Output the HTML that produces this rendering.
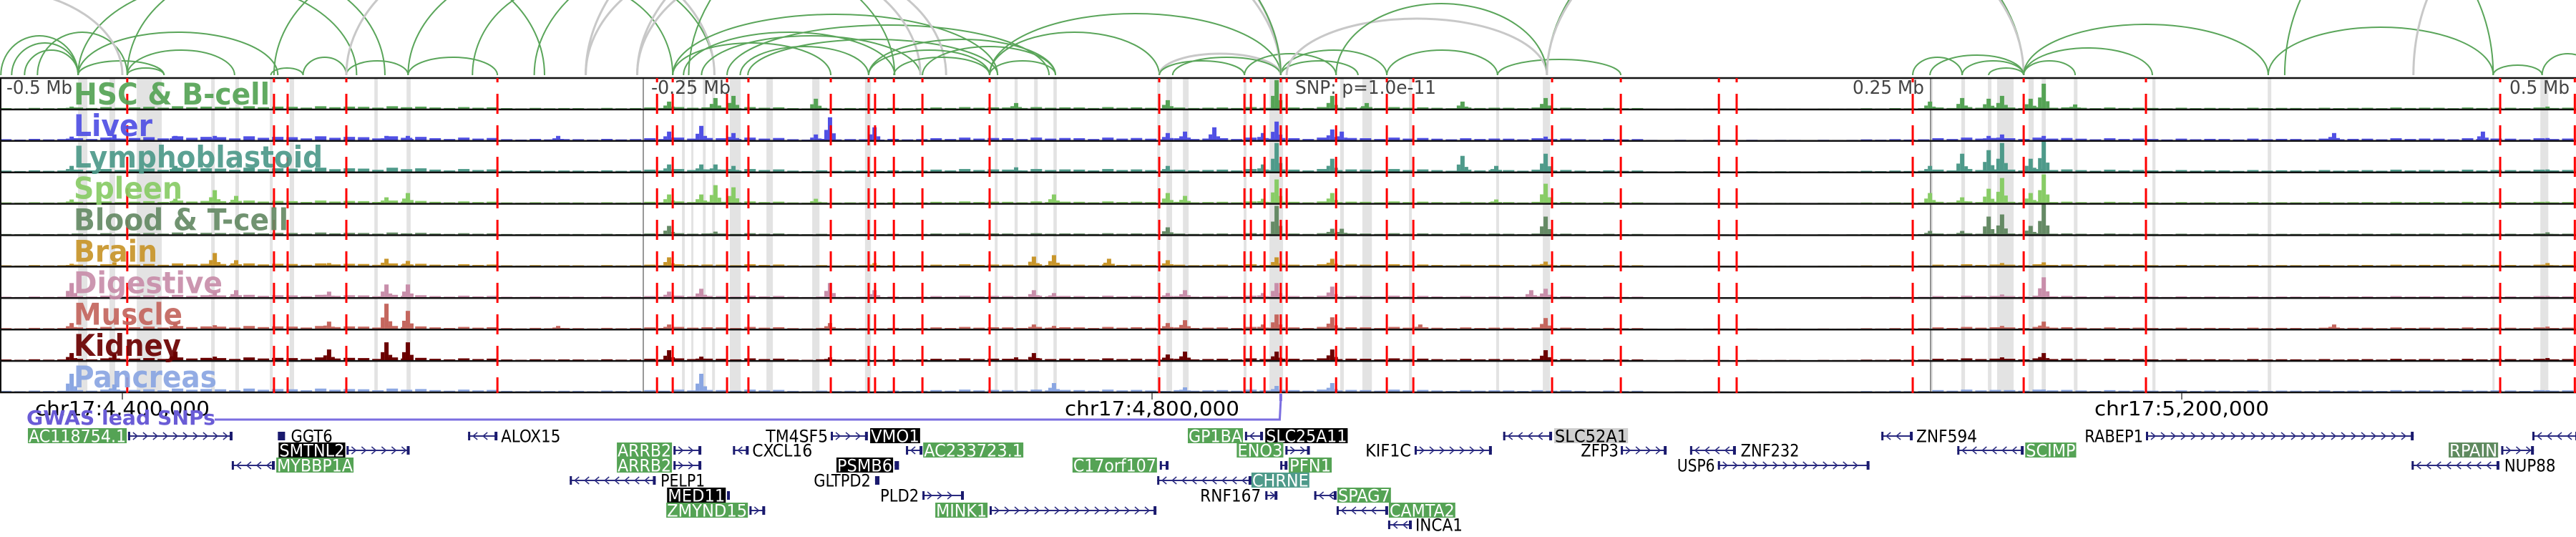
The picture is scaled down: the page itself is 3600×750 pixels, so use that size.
<!DOCTYPE html>
<html><head><meta charset="utf-8"><style>
html,body{margin:0;padding:0;background:#fff;width:3600px;height:750px;overflow:hidden}
svg{display:block}
.cond{font-family:"DejaVu Sans Condensed","DejaVu Sans","Liberation Sans",sans-serif}
</style></head><body>
<svg id="chart" width="3600" height="750" viewBox="0 0 3600 750" xmlns="http://www.w3.org/2000/svg">
<g id="arcs"></g>
<g id="bands"></g>
<g id="signals"></g>
<g id="frames"></g>
<g id="snps"></g>
<g id="labels"></g>
<g id="axis"></g>
<g id="genes"></g>
</svg>
<script>
// ---- data ----
const trackNames = ["HSC & B-cell","Liver","Lymphoblastoid","Spleen","Blood & T-cell","Brain","Digestive","Muscle","Kidney","Pancreas"];
const trackColors = ["#55a355","#5050e4","#4e9a8a","#88cc66","#658a65","#c8952a","#c88eaa","#c4665e","#6b0000","#8aa6e2"];
const labelWidths = [274,110,348,152,300,117,208,152,150,200];
const peakKb = [4380.3,4396.9,4420.6,4435.9,4444.2,4480.3,4502.6,4510.9,4569.3,4612.4,4624.9,4630.4,4637.4,4669.4,4674.9,4692.2,4747.2,4754.1,4761.9,4783.3,4806.1,4812.8,4824.2,4843.1,4848.4,4870.0,4873.7,4883.4,4904.2,4920.6,4933.7,4947.3,4952.9,5102.2,5114.7,5125.0,5130.2,5141.3,5146.4,5158.6,5259.2,5317.0,5342.1];
const hscPeaks    = [3,0,0,0,0,0,0,0,0,10,0,15,18,14,0,0,8,0,0,0,12,0,0,0,40,18,0,8,0,10,0,0,15,10,15,14,18,14,35,6,0,0,3];
const liverPeaks  = [5,8,6,6,0,0,6,6,6,12,20,0,10,8,32,18,0,0,0,0,10,12,18,10,26,15,12,0,0,0,0,0,5,0,0,6,8,0,6,0,10,12,3];
const lymphoPeaks = [8,0,8,0,0,0,0,0,0,10,10,10,8,0,0,0,6,0,0,0,8,0,0,10,40,18,0,0,0,22,8,0,25,8,25,30,40,18,42,0,0,0,3];
const spleenPeaks = [5,0,6,18,10,0,8,14,0,12,12,25,22,6,0,0,0,0,12,0,14,10,0,6,33,14,0,0,0,0,5,0,27,14,8,20,35,14,40,0,0,0,2];
const bloodPeaks  = [0,0,0,0,0,0,0,0,0,12,0,4,0,0,0,0,0,0,0,0,10,0,0,0,40,8,8,0,0,0,0,0,25,5,5,25,28,12,42,0,0,0,3];
const brainPeaks  = [3,5,0,18,8,4,10,7,0,12,0,0,0,0,0,4,0,13,15,10,8,0,0,0,12,10,0,0,0,0,0,0,6,0,0,0,4,0,5,0,0,0,4];
const digestPeaks = [20,0,0,8,10,8,18,18,0,8,12,0,0,0,20,10,0,10,6,0,6,10,0,6,20,15,0,0,0,0,0,10,12,0,0,0,4,0,28,0,0,0,2];
const musclePeaks = [8,0,8,5,0,10,35,25,4,6,0,0,0,0,8,0,0,6,4,0,8,12,0,6,20,16,0,0,6,0,0,0,15,0,0,0,4,0,10,0,6,0,3];
const kidneyPeaks = [10,8,12,5,0,15,25,25,0,14,5,0,0,0,4,0,4,10,0,0,8,12,0,0,12,15,0,0,0,0,0,0,14,0,0,0,4,0,10,0,0,0,3];
const pancPeaks   = [25,10,0,0,0,0,0,0,0,0,25,0,0,0,0,0,0,0,12,0,0,6,0,0,8,12,0,0,0,0,0,0,0,0,0,0,0,0,3,0,0,0,2];
const bgLevel = [1,2,3,3,3,3,2,1,1,2,2,1,1,2,2,2,1.5,2,2,2,1.5,1.5,1,0.3,0.3,0.3,0.8,2,2,1.5,1.2,1.2,1.2,1.5,1.5,1.5];
const bgScale = [0.9,1.4,1.4,0.9,0.7,0.9,0.9,1.0,1.0,1.1];
const bgStartKb = 4352.5, bgBinKb = 27.8;
const snpKb = [4401.9,4458.9,4464.2,4487.0,4545.7,4607.7,4613.8,4634.9,4643.2,4675.2,4689.9,4692.4,4699.7,4710.8,4736.9,4802.8,4835.9,4838.4,4843.7,4850.0,4852.3,4871.5,4891.2,4901.5,4955.4,4982.1,5020.2,5027.1,5095.5,5138.6,5186.1,5323.7,5352.7];
const bandKb = [[4382.8,4386.4],[4395.0,4397.2],[4405.6,4415.3],[4434.5,4435.9],[4443.9,4445.3],[4457.3,4458.4],[4465.0,4466.7],[4497.9,4499.2],[4510.4,4512.0],[4617.4,4618.5],[4621.0,4621.8],[4625.5,4626.6],[4629.1,4630.2],[4636.0,4640.2],[4650.2,4652.7],[4668.0,4670.8],[4688.5,4690.8],[4738.9,4740.0],[4746.6,4747.8],[4754.2,4755.6],[4761.7,4763.0],[4802.0,4803.1],[4805.6,4807.8],[4812.0,4814.2],[4835.6,4836.7],[4845.6,4850.9],[4873.1,4874.5],[4881.7,4885.4],[4899.8,4900.9],[4933.7,4934.8],[4951.8,4954.6],[5102.2,5103.3],[5114.4,5115.8],[5124.7,5126.1],[5128.3,5134.7],[5140.5,5142.5],[5145.6,5147.2],[5158.1,5159.5],[5188.6,5189.8],[5233.4,5234.8],[5320.7,5321.5],[5339.3,5342.4]];
const tickKb = [4400,4800,5200];
const tickLabels = ["chr17:4,400,000","chr17:4,800,000","chr17:5,200,000"];
// arcs: [startKb,endKb,heightPx,gray]
const arcs = [[4352.8,4382.8,55,0],[4357,4382.8,45,0],[4362,4382.8,35,0],[4367,4401.9,60,0],[4382.8,4460.4,60,0],[4401.9,4443.6,35,0],[4382.8,4491,130,0],[4401.9,4502,150,0],[4382.8,4416.2,20,0],[4401.9,4416.2,10,0],[4457.7,4470.2,10,0],[4470.2,4487,25,0],[4487,4511,20,0],[4511,4545.7,25,0],[4458.9,4564,160,0],[4511,4630,160,0],[4536,4613.8,130,0],[4487,4630,190,1],[4300,4400,120,1],
[4613.8,4675.2,45,0],[4618,4700,60,0],[4625,4710,55,0],[4640,4689.9,40,0],[4613.8,4740,85,0],[4634.9,4760,70,0],[4643,4740,50,0],[4560,4700,180,0],[4580,4710,170,1],[4600,4720,160,1],
[4689.9,4736.9,35,0],[4699.7,4736.9,25,0],[4689.9,4762.5,50,0],[4710.8,4762.5,40,0],[4736.9,4762.5,20,0],[4736.9,4850,86,0],[4736.9,4802.8,60,0],
[4802.8,4850,30,1],[4808,4850,25,0],[4802.8,4835.9,20,0],[4835.9,4871.5,30,0],[4850,4880,20,0],[4850,4891.2,35,0],[4891.2,4934.2,35,0],[4934.2,4982.1,22,0],[4852.3,4953.4,79,1],[4871.5,4953.4,100,0],[4580,4850,300,1],[4600,4850,260,1],[4620,4850,280,0],[4953.4,5138.6,250,0],[4953.4,5138.6,240,1],
[5095.5,5114.7,25,0],[5102.2,5138.6,28,0],[5114.7,5138.6,20,0],[5125,5138.6,10,0],[5138.6,5158.6,20,0],[5138.6,5188.6,38,0],[5138.6,5233.6,71,0],[5233.6,5321,67,0],[5321,5340,14,0],[5340,5360,30,0],[5240,5321,200,0],[5290,5360,200,1]];
// genes: [name,row,labelStartKb,labelEndKb,style,lineStartKb,lineEndKb,strand]
const genes = [["AC118754.1",0,4363.3,4401.7,"g",4402.2,4442.8,"+"],["GGT6",0,4465.2,4481.9,"",4460.4,4463.2,"b"],["SMTNL2",1,4460.7,4486.6,"k",4487.1,4511.6,"+"],["MYBBP1A",2,4459.8,4489.8,"g",4442.5,4459.2,"-"],["ALOX15",0,4546.8,4570.5,"",4534.3,4545.7,"-"],["ARRB2",1,4592.1,4613.5,"g",4614.1,4624.9,"+"],["ARRB2",2,4592.1,4613.5,"g",4614.1,4624.9,"+"],["PELP1",3,4608.8,4626.6,"",4573.8,4607.2,"-"],["MED11",4,4611.6,4634.4,"k",4634.9,4636.0,"+"],["ZMYND15",5,4611.3,4643.0,"g",4643.6,4649.7,"+"],["CXCL16",1,4644.4,4668.3,"",4637.2,4643.3,"-"],["TM4SF5",0,4649.7,4674.4,"",4675.2,4689.6,"+"],["VMO1",0,4690.5,4709.9,"k",0,0,""],["AC233723.1",1,4711.1,4750.0,"g",4704.4,4710.8,"-"],["PSMB6",2,4677.4,4699.4,"k",4700.0,4701.7,"+"],["GLTPD2",3,4668.3,4691.0,"",4692.4,4694.1,"+"],["PLD2",4,4694.1,4709.7,"",4710.8,4726.9,"+"],["MINK1",5,4715.8,4736.1,"g",4736.9,4801.7,"+"],["GP1BA",0,4813.9,4835.3,"g",4836.1,4843.1,"-"],["SLC25A11",0,4844.0,4876.0,"k",0,0,""],["ENO3",1,4832.9,4851.0,"g",4851.8,4861.3,"+"],["KIF1C",1,4882.6,4900.9,"",4902.0,4932.0,"+"],["C17orf107",2,4769.1,4801.9,"g",4803.0,4806.4,"+"],["PFN1",2,4853.1,4869.8,"g",4849.8,4852.6,"-"],["CHRNE",3,4838.6,4861.1,"t",4802.0,4838.6,"-"],["RNF167",4,4818.4,4842.6,"",4844.0,4848.7,"+"],["SPAG7",4,4872.0,4892.8,"g",4863.0,4871.7,"-"],["CAMTA2",5,4892.0,4917.8,"g",4871.7,4891.7,"-"],["INCA1",6,4902.0,4920.9,"",4891.7,4900.9,"-"],["SLC52A1",0,4956.2,4984.9,"s",4936.4,4955.4,"-"],["ZFP3",1,4966.3,4981.5,"",4982.1,4999.9,"+"],["ZNF232",1,5028.4,5051.7,"",5009.0,5026.8,"-"],["USP6",2,5003.7,5018.9,"",5019.8,5078.7,"+"],["ZNF594",0,5096.6,5120.8,"",5083.3,5095.5,"-"],["SCIMP",1,5139.2,5159.0,"g",5112.8,5138.6,"-"],["RABEP1",0,5162.0,5185.3,"",5186.1,5290.1,"+"],["RPAIN",1,5303.7,5322.9,"d",5324.1,5336.8,"+"],["NUP88",2,5325.0,5345.5,"",5289.3,5323.4,"-"],["",0,0,0,"",5336.2,5354,"-"]];

// ---- scales ----
const KB_PER_PX = 0.27797;
function xScale(kb){ return 171 + (kb - 4400) / KB_PER_PX; }
const TRACK_TOP = 109, TRACK_H = 43.9;
function trackTop(i){ return TRACK_TOP + i * TRACK_H; }
function yBase(i){ return trackTop(i) + TRACK_H - 1; }
const NS = "http://www.w3.org/2000/svg";
function mk(tag, attrs, parent){ const e = document.createElementNS(NS, tag); for (const k in attrs) e.setAttribute(k, attrs[k]); parent.appendChild(e); return e; }
const peakSeries = [hscPeaks,liverPeaks,lymphoPeaks,spleenPeaks,bloodPeaks,brainPeaks,digestPeaks,musclePeaks,kidneyPeaks,pancPeaks];

// arcs
const gArcs = document.getElementById("arcs");
arcs.forEach(a => {
  const x1 = xScale(a[0]), x2 = xScale(a[1]), rx = (x2 - x1) / 2;
  const p = mk("path", {d:`M${x1} 105 A${rx} ${a[2]} 0 0 1 ${x2} 105`, fill:"none", stroke: a[3] ? "#c8c8c8" : "#5aa55a", "stroke-width": a[3] ? 3 : 2}, gArcs);
  
  
});

// bands
const gBands = document.getElementById("bands");
bandKb.forEach(b => {
  const x1 = xScale(b[0]), x2 = xScale(b[1]);
  const r = mk("rect", {x:x1, y:109, width:Math.max(3, x2 - x1), height:440, fill:"#e3e3e3"}, gBands);
  
  
});
mk("line",{x1:899,y1:109,x2:899,y2:548,stroke:"#777","stroke-width":1.5},gBands);
mk("line",{x1:2698,y1:109,x2:2698,y2:548,stroke:"#777","stroke-width":1.5},gBands);

// signals
const gSig = document.getElementById("signals");
const subMul = [1, 0.6, 1.3, 0.8, 1.1];
trackNames.forEach((name, i) => {
  const g = mk("g", {}, gSig);
  
  
  const col = trackColors[i], base = yBase(i);
  bgLevel.forEach((lv, j) => {
    const x0 = xScale(bgStartKb + j * bgBinKb), w = bgBinKb / KB_PER_PX / 5;
    subMul.forEach((m, k) => {
      const h = lv * bgScale[i] * m;
      if (h > 0.2) mk("rect", {x:x0 + k * w, y:base - h, width:w - 4, height:h, fill:col}, g);
    });
  });
  peakSeries[i].forEach((h, j) => {
    if (!h) return;
    const x = xScale(peakKb[j]);
    mk("rect", {x:x - 8, y:base - h * 0.45, width:5, height:h * 0.45, fill:col}, g);
    const r = mk("rect", {x:x - 3, y:base - h, width:6, height:h, fill:col}, g);
    
    
    mk("rect", {x:x + 3, y:base - h * 0.3, width:5, height:h * 0.3, fill:col}, g);
  });
});

// frames
const gFr = document.getElementById("frames");
for (let i = 0; i <= 10; i++) mk("line", {x1:0, y1:trackTop(i), x2:3600, y2:trackTop(i), stroke:"#111", "stroke-width":2.5}, gFr);
mk("line", {x1:1, y1:109, x2:1, y2:549, stroke:"#111", "stroke-width":2}, gFr);

// snps
const gSnp = document.getElementById("snps");
snpKb.forEach(s => {
  const x = xScale(s);
  const l = mk("line", {x1:x, y1:109, x2:x, y2:549, stroke:"#f00", "stroke-width":3, "stroke-dasharray":"28 16", "stroke-dashoffset":22}, gSnp);
  
  
});

// labels
const gLab = document.getElementById("labels");
trackNames.forEach((n, i) => {
  const t = mk("text", {x:103, y:trackTop(i) + 37, fill:trackColors[i], "font-size":42, "font-weight":"bold", class:"cond", textLength:labelWidths[i], lengthAdjust:"spacingAndGlyphs", opacity:0.92}, gLab);
  t.textContent = n;
  
  
});
[["-0.5 Mb",9,92],["-0.25 Mb",910,111],["SNP: p=1.0e-11",1810,197],["0.25 Mb",2589,100],["0.5 Mb",3507,84]].forEach(m => {
  const t = mk("text", {x:m[1], y:131, fill:"#444", "font-size":26, class:"cond", textLength:m[2], lengthAdjust:"spacingAndGlyphs"}, gLab);
  t.textContent = m[0];
  
  
});

// axis
const gAx = document.getElementById("axis");
tickKb.forEach((k, i) => {
  const x = xScale(k);
  mk("line", {x1:x, y1:549, x2:x, y2:558, stroke:"#444", "stroke-width":1.5}, gAx);
  const t = mk("text", {x:x, y:580, "text-anchor":"middle", "font-size":28, fill:"#000", class:"cond", textLength:244, lengthAdjust:"spacingAndGlyphs"}, gAx);
  t.textContent = tickLabels[i];
  
  
});
const gw = mk("polyline", {points:`300,586 ${xScale(4849.6)},586 ${xScale(4850)},559`, fill:"none", stroke:"#7b6ee0", "stroke-width":3}, gAx);


mk("rect", {x:xScale(4850) - 2, y:550, width:4, height:10, fill:"#7b6ee0"}, gAx);
const gt = mk("text", {x:37, y:593, "font-size":28, "font-weight":"bold", fill:"#6a5cd6", class:"cond", textLength:264, lengthAdjust:"spacingAndGlyphs"}, gAx);
gt.textContent = "GWAS lead SNPs";



// genes
const gGn = document.getElementById("genes");
const rowY = [609, 629, 650, 671, 692, 713, 733];
const boxCol = {g:"#55a355", k:"#000", t:"#4e9a8a", s:"#cfcfcf", d:"#5f8a5f"};
genes.forEach(gn => {
  const g = mk("g", {}, gGn);
  
  
  const y = rowY[gn[1]];
  if (gn[5]) {
    const x1 = xScale(gn[5]), x2 = xScale(gn[6]);
    if (gn[7] === "b") {
      mk("rect", {x:x1, y:y - 6, width:x2 - x1, height:12, fill:"#1a1a6e"}, g);
    } else {
      mk("line", {x1:x1, y1:y, x2:x2, y2:y, stroke:"#2a2a80", "stroke-width":2}, g);
      mk("rect", {x:x1, y:y - 6, width:3, height:12, fill:"#1a1a6e"}, g);
      mk("rect", {x:x2 - 4, y:y - 6, width:4, height:12, fill:"#1a1a6e"}, g);
      let d = "";
      for (let x = x1 + 10; x < x2 - 6; x += 14) {
        d += gn[7] === "+" ? `M${x - 3} ${y - 5} L${x + 3} ${y} L${x - 3} ${y + 5} ` : `M${x + 3} ${y - 5} L${x - 3} ${y} L${x + 3} ${y + 5} `;
      }
      if (d) mk("path", {d:d, fill:"none", stroke:"#2a2a80", "stroke-width":1.5}, g);
    }
  }
  if (gn[0]) {
    const lx1 = xScale(gn[2]), lx2 = xScale(gn[3]);
    const st = gn[4];
    if (st) mk("rect", {x:lx1, y:y - 11, width:lx2 - lx1, height:21, fill:boxCol[st]}, g);
    const t = mk("text", {x:lx1 + 1, y:y + 8.5, "font-size":24, fill: (st && st !== "s") ? "#fff" : "#000", class:"cond", textLength:lx2 - lx1 - 2, lengthAdjust:"spacingAndGlyphs"}, g);
    t.textContent = gn[0];
  }
});
</script>
</body></html>
